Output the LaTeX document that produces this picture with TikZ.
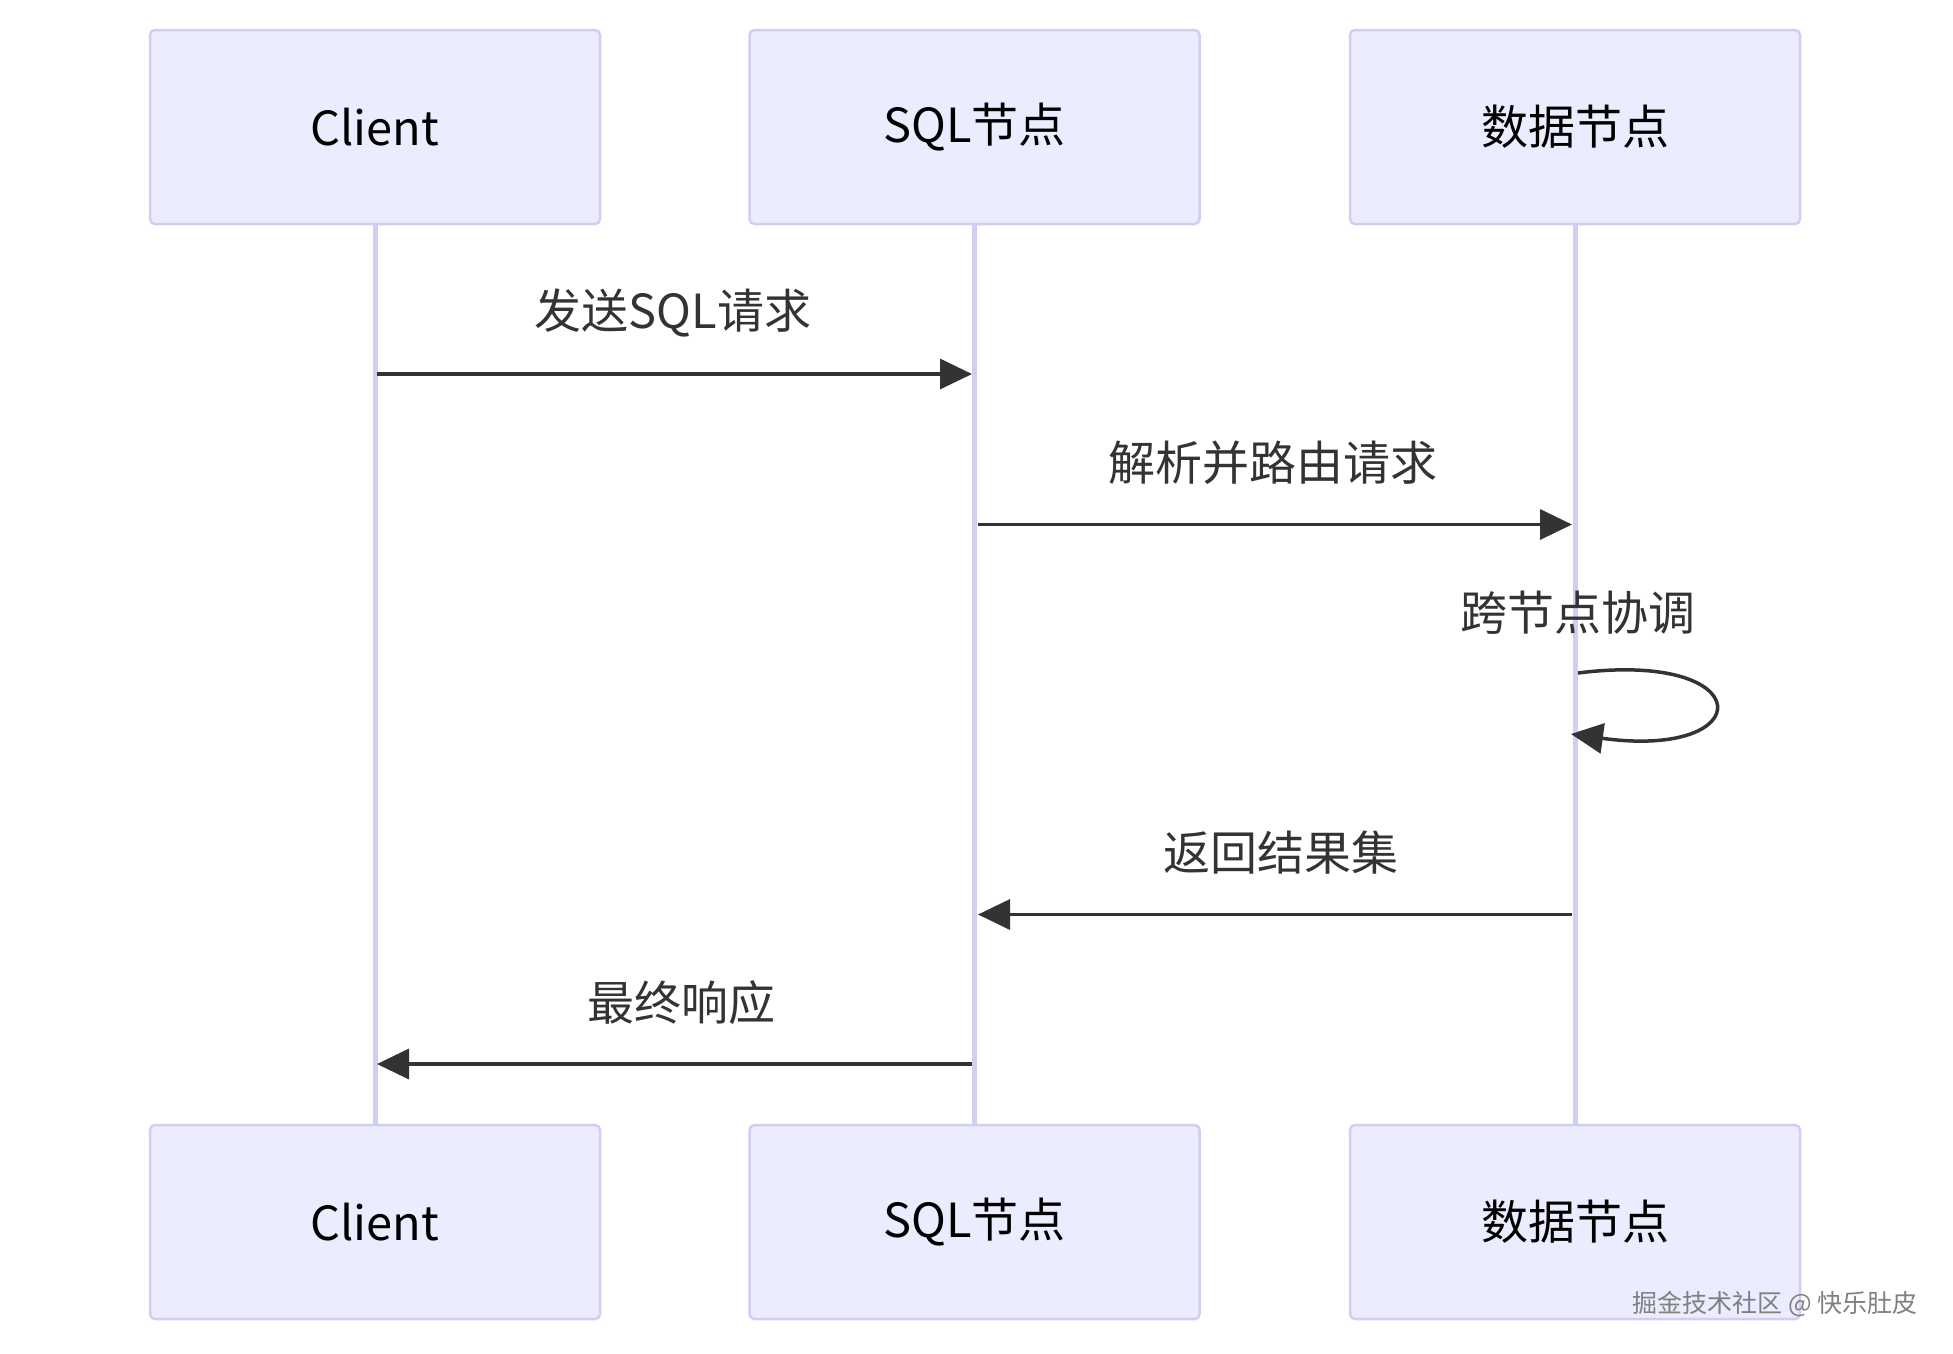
\documentclass[tikz,border=0pt]{standalone}
\usepackage{fontspec}
\setmainfont{Noto Sans CJK SC}
\usetikzlibrary{arrows.meta}
\definecolor{actorfill}{HTML}{ECECFF}
\definecolor{actorline}{RGB}{212,204,243}
\definecolor{lifeline}{RGB}{210,206,242}
\definecolor{msgcol}{HTML}{333333}
\tikzset{
  actor/.style={draw=actorline, line width=2.5pt, fill=actorfill, rounded corners=5pt,
    minimum width=450pt, minimum height=194pt, inner sep=0pt,
    font=\fontsize{47}{56}\selectfont, text=black},
  life/.style={draw=lifeline, line width=5pt},
  msg/.style={draw=msgcol, line width=3.5pt, -{Triangle[length=32pt,width=30pt]}},
  msglabel/.style={font=\fontsize{47}{56}\selectfont, text=msgcol, inner sep=0pt},
  watermark/.style={font=\fontsize{25}{30}\selectfont, text=black!50, inner sep=0pt}
}
\begin{document}
\begin{tikzpicture}[x=1pt,y=-1pt]
\useasboundingbox[fill=white] (0,0) rectangle (1953,1353);
% actors top
\node[actor] (ct) at (375,127) {Client};
\node[actor] (st) at (974.5,127) {SQL节点};
\node[actor] (dt) at (1575,127) {数据节点};
% actors bottom
\node[actor] (cb) at (375,1222) {Client};
\node[actor] (sb) at (974.5,1222) {SQL节点};
\node[actor] (db) at (1575,1222) {数据节点};
% lifelines
\draw[life] (ct.south) -- (cb.north);
\draw[life] (st.south) -- (sb.north);
\draw[life] (dt.south) -- (db.north);
% message coordinates
\coordinate (c1) at (377,374);
\coordinate (s1) at (972,374);
\coordinate (s2) at (978,524.5);
\coordinate (d2) at (1572,524.5);
\coordinate (d3a) at (1578,673);
\coordinate (d3b) at (1571,734);
\coordinate (d4) at (1572,914.5);
\coordinate (s4) at (978,914.5);
\coordinate (s5) at (972,1064);
\coordinate (c5) at (377,1064);
% messages
\draw[msg] (c1) -- (s1);
\node[msglabel] (l1) at (673,313) {发送SQL请求};
\draw[msg] (s2) -- (d2);
\node[msglabel] (l2) at (1273,463) {解析并路由请求};
\draw[msg] (d3a) .. controls (1760,650) and (1760,760) .. (d3b);
\node[msglabel] (l3) at (1578,613) {跨节点协调};
\draw[msg] (d4) -- (s4);
\node[msglabel] (l4) at (1281,853) {返回结果集};
\draw[msg] (s5) -- (c5);
\node[msglabel] (l5) at (681,1003) {最终响应};
% watermark
\node[watermark, anchor=east] (wm) at (1918,1304) {掘金技术社区 @ 快乐肚皮};
\end{tikzpicture}
\end{document}
